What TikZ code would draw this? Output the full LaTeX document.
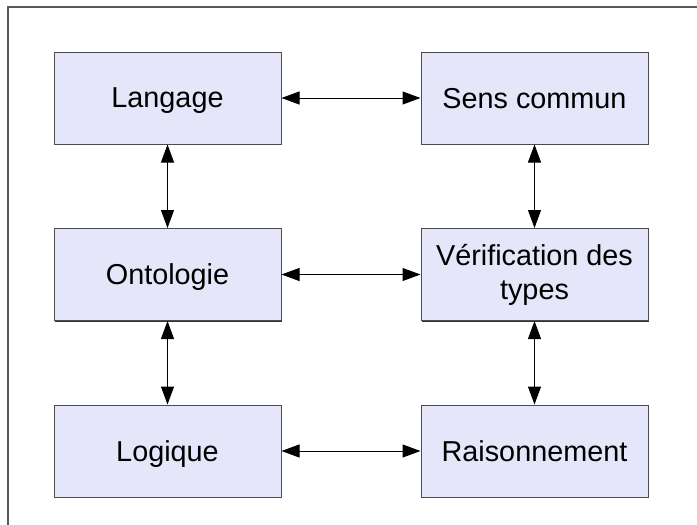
\documentclass[tikz,border=0pt]{standalone}
\usepackage{fontspec}
\setmainfont{Liberation Sans}
\usepackage{tikz}
\usetikzlibrary{arrows.meta, shadows}

\begin{document}
\begin{tikzpicture}[
    x=1pt, y=-1pt,
    >={Triangle[length=18pt, width=13pt]},
    bloc/.style={
        rectangle, draw=black!70, line width=1pt, fill={rgb,255:red,230;green,230;blue,250},
        minimum width=227pt, minimum height=92pt, align=center, inner sep=2pt,
        font=\fontsize{28.8}{34}\selectfont,
        drop shadow={shadow xshift=1pt, shadow yshift=-1pt, fill=black, opacity=0.8}
    },
    ligne/.style={text depth=0pt},
    lien/.style={<->, line width=1pt, black},
    cadre/.style={draw=black!65, line width=1.5pt},
]

\useasboundingbox (0,0) rectangle (697,525);

% ── Frame (only top and left edges show) ──
\coordinate (cadre-bg) at (8,540);
\coordinate (cadre-hg) at (8,7);
\coordinate (cadre-hd) at (710,7);
\draw[cadre] (cadre-bg) -- (cadre-hg) -- (cadre-hd);

% ── Blocs ──
\node[bloc, ligne] (langage) at (167.5,98)    {Langage};
\node[bloc, ligne] (sens)    at (534.5,98)    {Sens commun};
\node[bloc, ligne] (onto)    at (167.5,274.5) {Ontologie};
\node[bloc]        (verif)   at (534.5,274.5) {Vérification des\\types};
\node[bloc, ligne] (logique) at (167.5,451)   {Logique};
\node[bloc, ligne] (raison)  at (534.5,451)   {Raisonnement};

% ── Liens horizontaux ──
\draw[lien] (langage) -- (sens);
\draw[lien] (onto) -- (verif);
\draw[lien] (logique) -- (raison);

% ── Liens verticaux ──
\draw[lien] (langage) -- (onto);
\draw[lien] (onto) -- (logique);
\draw[lien] (sens) -- (verif);
\draw[lien] (verif) -- (raison);

\end{tikzpicture}
\end{document}
